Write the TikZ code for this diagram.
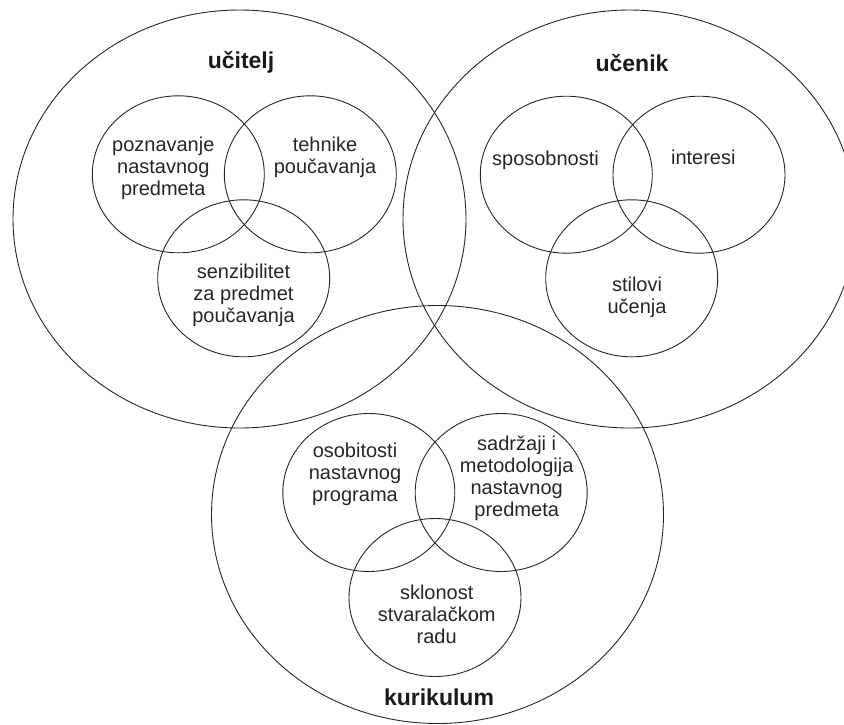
\documentclass[tikz,border=0pt]{standalone}
\usepackage{fontspec}
\setmainfont{Liberation Sans}
\begin{document}
\begin{tikzpicture}[x=1pt,y=-1pt,
  ring/.style={draw=black!85,line width=0.9pt},
  lbl/.style={align=center,inner sep=0pt,font=\fontsize{20}{22}\selectfont,text=black!85},
  ttl/.style={inner sep=0pt,font=\fontsize{23}{26}\selectfont\bfseries,text=black!90}]
\useasboundingbox (0,0) rectangle (844,724);
\clip (0,0) rectangle (844,724);
% big circles
\draw[ring] (239.5,219) ellipse [x radius=226.5,y radius=209];
\draw[ring] (629.5,219) ellipse [x radius=226.5,y radius=209];
\draw[ring] (437.5,514.5) ellipse [x radius=226,y radius=209];
% ucitelj group
\draw[ring] (178.3,174.3) ellipse [x radius=86,y radius=78.5];
\draw[ring] (310.3,174.3) ellipse [x radius=86,y radius=78.5];
\draw[ring] (243.7,278.3) ellipse [x radius=86,y radius=78.5];
% ucenik group
\draw[ring] (566.3,174.7) ellipse [x radius=86,y radius=78.5];
\draw[ring] (699,174.7) ellipse [x radius=86,y radius=78.5];
\draw[ring] (631.7,278.3) ellipse [x radius=86,y radius=78.5];
% kurikulum group
\draw[ring] (368.8,492.5) ellipse [x radius=86,y radius=79];
\draw[ring] (501.2,492.5) ellipse [x radius=86,y radius=79];
\draw[ring] (435,597.5) ellipse [x radius=86,y radius=79];
% titles
\node[ttl] (tucitelj) at (241,62) {učitelj};
\node[ttl] (tucenik) at (632,63.5) {učenik};
\node[ttl] (tkurikulum) at (439,697) {kurikulum};
% labels
\node[lbl] (poznavanje) at (163.3,168) {poznavanje\\nastavnog\\predmeta};
\node[lbl] (tehnike) at (325,157) {tehnike\\poučavanja};
\node[lbl] (senzibilitet) at (243.5,295) {senzibilitet\\za predmet\\poučavanja};
\node[lbl] (sposobnosti) at (545.5,160) {sposobnosti};
\node[lbl] (interesi) at (703.3,157.3) {interesi};
\node[lbl] (stilovi) at (637,297.5) {stilovi\\učenja};
\node[lbl] (osobitosti) at (355,474) {osobitosti\\nastavnog\\programa};
\node[lbl] (sadrzaji) at (516.7,478.5) {sadržaji i\\metodologija\\nastavnog\\predmeta};
\node[lbl] (sklonost) at (436.7,614) {sklonost\\stvaralačkom\\radu};
\end{tikzpicture}
\end{document}
